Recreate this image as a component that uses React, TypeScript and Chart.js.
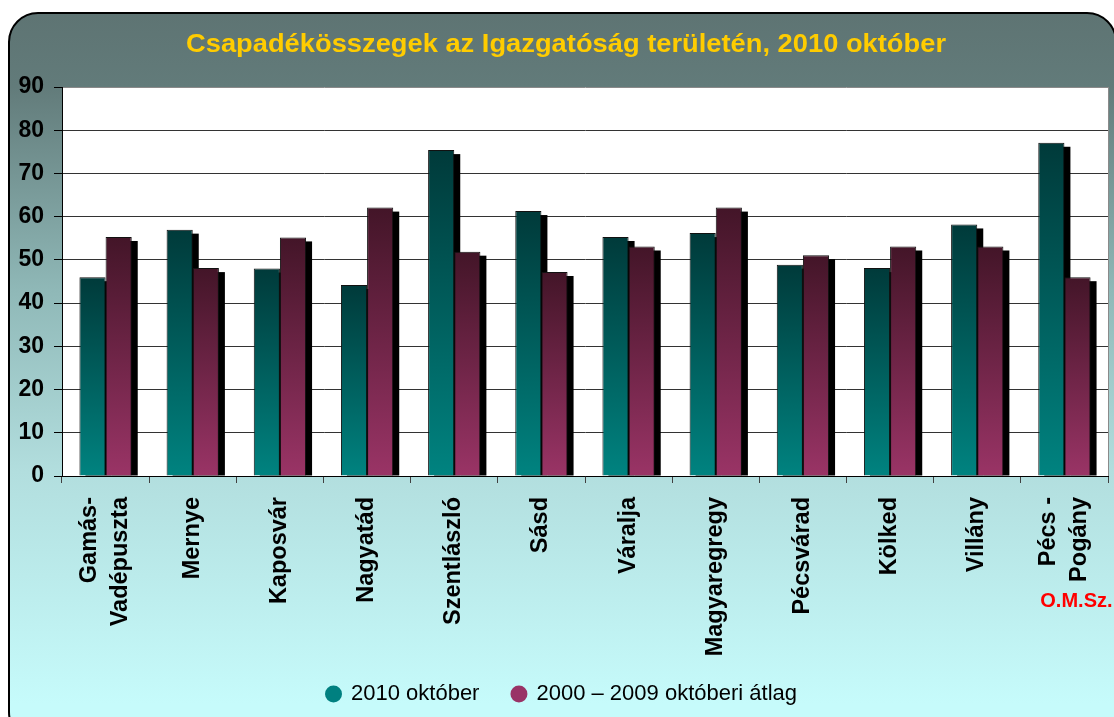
import React, { useEffect, useRef } from "react";
import { Chart, registerables } from "chart.js";

Chart.register(...registerables);

const categories: string[][] = [
  ["Gamás-", "Vadépuszta"],
  ["Mernye"],
  ["Kaposvár"],
  ["Nagyatád"],
  ["Szentlászló"],
  ["Sásd"],
  ["Váralja"],
  ["Magyaregregy"],
  ["Pécsvárad"],
  ["Kölked"],
  ["Villány"],
  ["Pécs -", "Pogány"],
];
const series2010 = [46, 57, 48, 44.2, 75.4, 61.3, 55.3, 56.2, 48.9, 48.1, 58.2, 77.1];
const seriesAvg = [55.3, 48.1, 55.2, 62.1, 51.9, 47.2, 53.1, 62.1, 51.1, 53.1, 53.1, 46];
const seriesNames = ["2010 október", "2000 – 2009 októberi átlag"];
const yMin = 0;
const yMax = 90;
const yStep = 10;
const titleText = "Csapadékösszegek az Igazgatóság területén, 2010 október";
const footnoteText = "O.M.Sz.";

const FONT = "'Liberation Sans', Arial, sans-serif";
const TEAL_TOP = "#003a3a";
const TEAL_BOTTOM = "#008380";
const PURPLE_TOP = "#431528";
const PURPLE_BOTTOM = "#9a3466";
const LEGEND_COLORS = ["#008080", "#993366"];

const gradientFor = (top: string, bottom: string) => (ctx: any) => {
  const chart = ctx.chart;
  const y = chart.scales && chart.scales.y;
  if (!y || ctx.type !== "data" || !chart.chartArea) return bottom;
  const yTop = y.getPixelForValue(ctx.raw);
  const yBase = y.getPixelForValue(0);
  if (!isFinite(yTop) || !isFinite(yBase) || yTop === yBase) return bottom;
  const g = chart.ctx.createLinearGradient(0, yTop, 0, yBase);
  g.addColorStop(0, top);
  g.addColorStop(1, bottom);
  return g;
};

const plotBgPlugin = {
  id: "plotBg",
  beforeDraw(chart: any) {
    const { ctx, chartArea: a } = chart;
    if (!a) return;
    ctx.save();
    ctx.fillStyle = "#ffffff";
    ctx.fillRect(a.left, a.top, a.right - a.left, a.bottom - a.top);
    ctx.restore();
  },
  afterDraw(chart: any) {
    const { ctx, chartArea: a } = chart;
    if (!a) return;
    ctx.save();
    ctx.strokeStyle = "#8a8a8a";
    ctx.lineWidth = 1;
    ctx.beginPath();
    ctx.moveTo(a.right + 0.5, a.top);
    ctx.lineTo(a.right + 0.5, a.bottom);
    ctx.stroke();
    ctx.restore();
  },
};

const shadowPlugin = {
  id: "barShadow",
  beforeDatasetsDraw(chart: any) {
    const { ctx, chartArea: a } = chart;
    ctx.save();
    ctx.beginPath();
    ctx.rect(a.left, a.top, a.right - a.left, a.bottom - a.top);
    ctx.clip();
    ctx.fillStyle = "#000000";
    chart.data.datasets.forEach((_: any, i: number) => {
      const meta = chart.getDatasetMeta(i);
      meta.data.forEach((bar: any) => {
        const { x, y, base, width } = bar.getProps(["x", "y", "base", "width"], true);
        ctx.fillRect(x - width / 2 + 6, y + 4, width, base - y - 4);
      });
    });
    ctx.restore();
  },
};

const textPlugin = {
  id: "texts",
  afterDraw(chart: any) {
    const { ctx, chartArea: a } = chart;
    const xs = chart.scales.x;
    ctx.save();
    // title
    ctx.font = `bold 26px ${FONT}`;
    ctx.fillStyle = "#ffcc00";
    ctx.textBaseline = "alphabetic";
    ctx.textAlign = "center";
    const w = ctx.measureText(titleText).width;
    const sx = 760 / w;
    ctx.save();
    ctx.translate(566, 51.5);
    ctx.scale(sx, 1);
    ctx.fillText(titleText, 0, 0);
    ctx.restore();

    // category labels, rotated
    ctx.font = `bold 23.5px ${FONT}`;
    ctx.fillStyle = "#000000";
    ctx.textAlign = "right";
    ctx.textBaseline = "alphabetic";
    const lineH = 31;
    categories.forEach((lines, idx) => {
      const cx = xs.getPixelForValue(idx);
      lines.forEach((line, li) => {
        const bx = cx + (li - (lines.length - 1) / 2) * lineH + 6;
        ctx.save();
        ctx.translate(bx, a.bottom + 21);
        ctx.rotate(-Math.PI / 2);
        ctx.fillText(line, 0, 0);
        ctx.restore();
      });
    });

    // footnote
    const px = xs.getPixelForValue(categories.length - 1);
    ctx.fillStyle = "#ff0000";
    ctx.font = `bold 20px ${FONT}`;
    ctx.textAlign = "center";
    ctx.textBaseline = "alphabetic";
    ctx.fillText(footnoteText, px + 12, a.bottom + 131);
    ctx.restore();
  },
};

export default function App() {
  const ref = useRef<HTMLCanvasElement>(null);

  useEffect(() => {
    const canvas = ref.current;
    if (!canvas) return;
    const chart = new Chart(canvas, {
      type: "bar",
      data: {
        labels: categories.map((l) => l.join(" ")),
        datasets: [
          {
            label: seriesNames[0],
            data: series2010,
            backgroundColor: gradientFor(TEAL_TOP, TEAL_BOTTOM),
            borderColor: "#111111",
            borderWidth: 1,
            categoryPercentage: 0.6,
            barPercentage: 1.0,
          },
          {
            label: seriesNames[1],
            data: seriesAvg,
            backgroundColor: gradientFor(PURPLE_TOP, PURPLE_BOTTOM),
            borderColor: "#111111",
            borderWidth: 1,
            categoryPercentage: 0.6,
            barPercentage: 1.0,
          },
        ],
      },
      options: {
        responsive: false,
        animation: false,
        layout: { padding: { left: 16, right: 6, top: 87, bottom: 2 } },
        plugins: {
          title: { display: false },
          legend: {
            position: "bottom",
            labels: {
              usePointStyle: true,
              pointStyle: "circle",
              boxWidth: 13,
              boxHeight: 12,
              padding: 33,
              color: "#000000",
              font: { family: FONT, size: 22 },
              generateLabels: () =>
                seriesNames.map((t, i) => ({
                  text: t,
                  fillStyle: LEGEND_COLORS[i],
                  strokeStyle: LEGEND_COLORS[i],
                  lineWidth: 0,
                  pointStyle: "circle",
                  hidden: false,
                  datasetIndex: i,
                  fontColor: "#000000",
                })),
            },
          },
          tooltip: { enabled: false },
        },
        scales: {
          x: {
            grid: {
              offset: true,
              drawOnChartArea: false,
              drawTicks: true,
              tickLength: 7,
              color: "#404040",
            },
            border: { color: "#000000", width: 1 },
            ticks: { display: false, autoSkip: false },
            afterFit: (s: any) => {
              s.height = 174;
            },
          },
          y: {
            min: yMin,
            max: yMax,
            ticks: {
              stepSize: yStep,
              color: "#000000",
              font: { family: FONT, size: 23, weight: "bold" },
              padding: 10,
            },
            grid: {
              color: (c: any) => (c.tick && c.tick.value === yMax ? "#8a8a8a" : "#333333"),
              tickColor: "#000000",
              tickLength: 8,
            },
            border: { color: "#000000", width: 1 },
            afterFit: (s: any) => {
              s.width = 46;
            },
          },
        },
      } as any,
      plugins: [plotBgPlugin, shadowPlugin, textPlugin],
    });
    return () => chart.destroy();
  }, []);

  return (
    <div
      style={{
        position: "fixed",
        left: 0,
        top: 0,
        width: 1114,
        height: 717,
        background: "#ffffff",
        overflow: "hidden",
      }}
    >
      <div
        style={{
          position: "absolute",
          left: 8,
          top: 12,
          width: 1109,
          height: 730,
          boxSizing: "border-box",
          border: "2.5px solid #000",
          borderRadius: 30,
          background:
            "linear-gradient(to bottom, #5e7473 0%, #627b7a 10%, #8fb8b7 38%, #b2dede 63%, #c6fbfb 95%)",
        }}
      />
      <canvas
        ref={ref}
        width={1114}
        height={717}
        style={{ position: "absolute", left: 0, top: 0, width: 1114, height: 717 }}
      />
    </div>
  );
}
